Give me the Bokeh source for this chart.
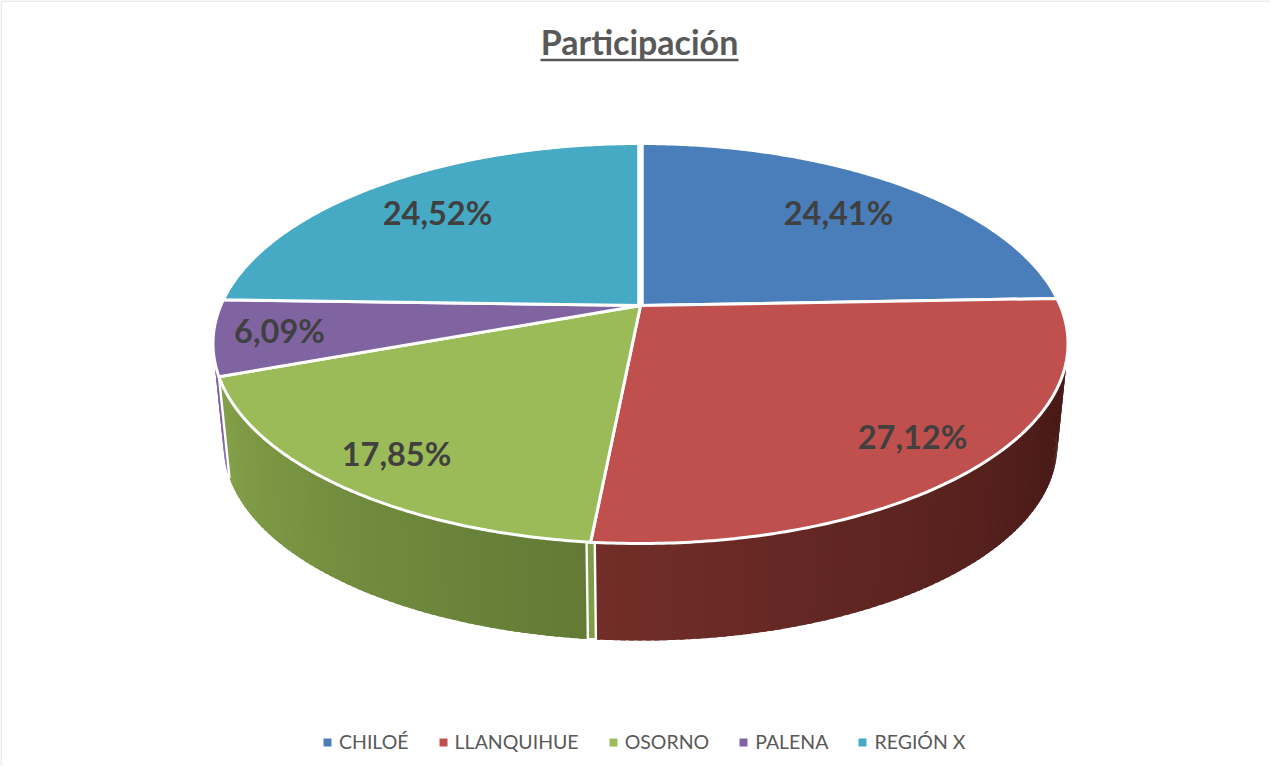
import numpy as np
from bokeh.core.properties import value
from bokeh.embed import file_html
from bokeh.models import Legend, LegendItem, Range1d
from bokeh.plotting import figure
from bokeh.resources import INLINE

# ---- data ----
categories = ["CHILOÉ", "LLANQUIHUE", "OSORNO", "PALENA", "REGIÓN X"]
shares = [24.41, 27.12, 17.85, 6.09, 24.52]
share_labels = ["24,41%", "27,12%", "17,85%", "6,09%", "24,52%"]
top_colors = ["#4a7ebb", "#c0504d", "#9bbb59", "#8064a2", "#46aac5"]
side_start = ["#4a7ebb", "#491a18", "#627a35", "#8064a2", "#46aac5"]
side_end = ["#4a7ebb", "#722e29", "#84a149", "#8064a2", "#46aac5"]
side_hold = [0, 0.25, 0, 0, 0]
title_text = "Participación"

# ---- layout (page pixels) ----
LEFT, TOP = 8, 8
W, H = 1270, 766
APEX = (648.0, 313.0)
K, A, B = 0.19, 192.8, 419.7      # perspective of the top disc
DEPTH, SHRINK = 103.0, 0.975      # lower disc
LABEL_XY = [(846, 220), (920, 444), (404, 461), (287, 338), (445, 220)]


def top_pt(t):
    u, v = np.sin(t), np.cos(t)
    d = 1 + K * v
    return APEX[0] + B * u / d, APEX[1] - A * v / d


def low_pt(t):
    x, y = top_pt(t)
    return APEX[0] + SHRINK * (x - APEX[0]), APEX[1] + SHRINK * (y - APEX[1]) + DEPTH


def hex2rgb(h):
    return np.array([int(h[i:i + 2], 16) for i in (1, 3, 5)], float)


def mix(a, b, f):
    c = hex2rgb(a) * (1 - f) + hex2rgb(b) * f
    return "#%02x%02x%02x" % tuple(int(round(x)) for x in c)


p = figure(width=W, height=H, output_backend="svg", toolbar_location=None,
           x_range=Range1d(LEFT, LEFT + W), y_range=Range1d(TOP + H, TOP),
           min_border=0, outline_line_color=None)
p.axis.visible = False
p.grid.visible = False
p.background_fill_color = "white"
p.border_fill_color = "white"

# chart frame
p.line([8.5, 8.5, LEFT + W], [TOP + H, 8.5, 8.5], line_color="#d9d9d9", line_width=1)

edges = np.cumsum([0] + shares) / sum(shares) * 2 * np.pi

# side wall: overlapping strips so no seam shows
sx, sy, sc = [], [], []
for i in (3, 1, 2):
    a0, a1 = edges[i], edges[i + 1]
    n = max(4, int((a1 - a0) * 60))
    ts = np.linspace(a0, a1, n + 1)
    for j in range(n):
        t1 = min(a1, ts[j + 1] + 0.01)
        t0 = ts[j]
        q = [top_pt(t0), top_pt(t1), low_pt(t1), low_pt(t0)]
        sx.append([c[0] for c in q])
        sy.append([c[1] for c in q])
        f = max(0.0, ((j + .5) / n - side_hold[i]) / (1 - side_hold[i]))
        sc.append(mix(side_start[i], side_end[i], f))
p.patches(sx, sy, fill_color=sc, line_color=None)

# white separators on the front cut, with the lit cut face between them
b = edges[2]
gap = 0.008
f = [top_pt(b - gap), top_pt(b + gap), low_pt(b + gap), low_pt(b - gap)]
p.patch([c[0] for c in f], [c[1] for c in f], fill_color="#7f9c47", line_color="white", line_width=2.4)

# left edge of the green wall
g0, g1 = top_pt(edges[3]), low_pt(edges[3])
p.segment([g0[0]], [g0[1]], [g1[0]], [g1[1]], line_color="white", line_width=2.4)

# top faces
tx, ty = [], []
for i in range(len(shares)):
    ts = np.linspace(edges[i], edges[i + 1], 160)
    pts = [top_pt(t) for t in ts]
    tx.append([APEX[0]] + [c[0] for c in pts])
    ty.append([APEX[1]] + [c[1] for c in pts])
p.patches(tx, ty, fill_color=top_colors, line_color="white", line_width=3, line_join="round")

# the first radius is cut wider
r0 = top_pt(0.0)
p.segment([APEX[0]], [APEX[1]], [r0[0]], [r0[1] - 2], line_color="white", line_width=6.5)

# values
p.text([c[0] for c in LABEL_XY], [c[1] for c in LABEL_XY], text=share_labels,
       text_font=value("Lato"), text_font_style="bold", text_font_size="32.5px",
       text_color="#404040", text_align="center", text_baseline="middle")

# title
p.text([647], [49], text=[title_text], text_font=value("Lato"), text_font_style="bold",
       text_font_size="34px", text_color="#595959", text_align="center", text_baseline="middle")
p.segment([548], [67.5], [746], [67.5], line_color="#595959", line_width=2.5)

# legend
items = []
for i, name in enumerate(categories):
    r = p.scatter([-100], [-100], marker="square", size=8, fill_color=top_colors[i], line_color=None)
    items.append(LegendItem(label=name, renderers=[r]))
leg = Legend(items=items, orientation="horizontal", location=(317, 13),
             border_line_color=None, background_fill_alpha=0,
             label_text_font="Lato", label_text_font_size="19.5px", label_text_color="#595959",
             glyph_width=20, glyph_height=20, label_standoff=2, spacing=24, margin=0, padding=0)
p.add_layout(leg)

open("out.html", "w").write(file_html(p, INLINE))
